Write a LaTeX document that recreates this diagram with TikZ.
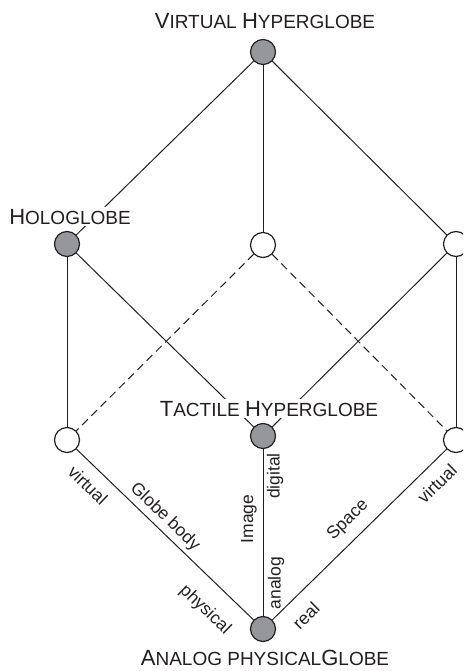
\documentclass[tikz,border=0pt]{standalone}
\usepackage{fontspec}
\setmainfont{Liberation Sans}
\definecolor{globegray}{RGB}{150,151,154}
\definecolor{inkline}{RGB}{35,31,32}
\newcommand{\Bg}[1]{{\fontsize{22}{26}\selectfont #1}}
\newcommand{\Sm}[1]{{\fontsize{19}{26}\selectfont #1}}
\begin{document}
\begin{tikzpicture}[x=1pt,y=-1pt,
  vert/.style={circle, draw=inkline, line width=1.2pt, minimum size=25pt, inner sep=0pt},
  full/.style={vert, fill=globegray},
  hollow/.style={vert, fill=white},
  edgeline/.style={line width=1pt, draw=inkline},
  dashline/.style={edgeline, dash pattern=on 8pt off 5pt},
  title/.style={fill=white, inner sep=1.5pt, anchor=base, text=inkline},
  elabel/.style={font=\fontsize{17.5}{20}\selectfont, text=inkline, inner sep=0pt}]
\useasboundingbox (0,0) rectangle (463,671);
\clip (0,0) rectangle (463,671);
% vertices
\node[full]   (top) at (263,52)  {};
\node[full]   (holo) at (67,244) {};
\node[hollow] (mid) at (263,245) {};
\node[hollow] (rt) at (456,244)  {};
\node[hollow] (lb) at (67,440)   {};
\node[full]   (tac) at (263,436) {};
\node[hollow] (rb) at (456,440)  {};
\node[full]   (bot) at (263,629) {};
% edges
\draw[edgeline] (top) -- (holo);
\draw[edgeline] (top) -- (mid);
\draw[edgeline] (top) -- (rt);
\draw[edgeline] (holo) -- (lb);
\draw[edgeline] (holo) -- (tac);
\draw[dashline] (mid) -- (lb);
\draw[dashline] (mid) -- (rb);
\draw[edgeline] (rt) -- (tac);
\draw[edgeline] (rt) -- (rb);
\draw[edgeline] (lb) -- (bot);
\draw[edgeline] (tac) -- (bot);
\draw[edgeline] (rb) -- (bot);
% titles
\node[title] (tVH) at (265,29) {\Bg{V}\Sm{IRTUAL }\Bg{H}\Sm{YPERGLOBE}};
\node[title] (tHO) at (70,224) {\Bg{H}\Sm{OLOGLOBE}};
\node[title] (tTH) at (269,416) {\Bg{T}\Sm{ACTILE }\Bg{H}\Sm{YPERGLOBE}};
\node[title] (tAP) at (265,665) {\Bg{A}\Sm{NALOG PHYSICAL}\Bg{G}\Sm{LOBE}};
% edge labels
\node[elabel, rotate=-44] (lv) at (88,485) {virtual};
\node[elabel, rotate=-44] (lg) at (165,517) {Globe body};
\node[elabel, rotate=-44] (lp) at (205,610) {physical};
\node[elabel, rotate=90] (vd) at (275,476) {digital};
\node[elabel, rotate=90] (vi) at (249,519) {Image};
\node[elabel, rotate=90] (va) at (276,583) {analog};
\node[elabel, rotate=44.4] (rv) at (437,484) {virtual};
\node[elabel, rotate=44.4] (rs) at (348,520) {Space};
\node[elabel, rotate=44.4] (rr) at (306,616) {real};
\end{tikzpicture}
\end{document}
